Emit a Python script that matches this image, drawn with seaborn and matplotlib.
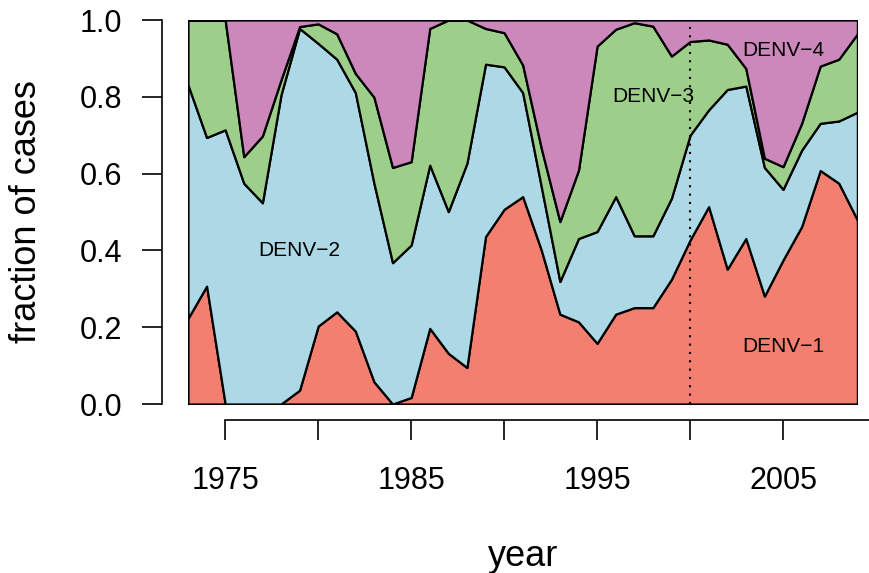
"""
Stacked fraction of dengue cases by serotype per year
"""
import numpy as np
import pandas as pd
import seaborn as sns
import matplotlib.pyplot as plt

YEARS = list(range(1973, 2010))
DENV1 = [.223, .307, 0, 0, 0, 0, .036, .203, .240, .190, .058, 0, .017,
         .197, .132, .095, .436, .507, .540, .401, .234, .214, .158, .234,
         .251, .251, .325, .427, .514, .351, .431, .281, .375, .462, .608,
         .575, .479]
DENV2 = [.608, .387, .714, .575, .524, .805, .942, .736, .658, .621, .517,
         .368, .397, .425, .369, .532, .449, .371, .271, .165, .085, .217,
         .291, .306, .187, .187, .211, .273, .252, .468, .397, .335, .184,
         .199, .123, .162, .281]
DENV3 = [.169, .306, .286, .069, .174, .039, .005, .051, .066, .050, .224,
         .248, .217, .356, .499, .373, .093, .089, .072, .100, .156, .178,
         .483, .436, .555, .546, .370, .244, .182, .118, .046, .024, .059,
         .070, .149, .161, .204]
DENV4 = [0, 0, 0, .356, .302, .156, .017, .010, .036, .139, .201, .384, .369,
         .022, 0, 0, .022, .033, .117, .334, .525, .391, .068, .024, .007,
         .016, .094, .056, .052, .063, .126, .360, .382, .269, .120, .102,
         .036]
SEROTYPES = ['DENV\u22121', 'DENV\u22122', 'DENV\u22123', 'DENV\u22124']
COLORS = ['#F27F70', '#ADD8E6', '#9DCF8A', '#CC88BB']
LABEL_POS = [(2005, 0.15), (1979, 0.40), (1998, 0.80), (2005, 0.92)]
VLINE_YEAR = 2000

sns.set_style("white")
plt.rcParams['font.family'] = ['Liberation Sans', 'DejaVu Sans']
for key in ['text.color', 'axes.labelcolor', 'xtick.color', 'ytick.color']:
    plt.rcParams[key] = 'black'

cases = pd.DataFrame({'year': YEARS, SEROTYPES[0]: DENV1, SEROTYPES[1]: DENV2,
                      SEROTYPES[2]: DENV3, SEROTYPES[3]: DENV4})
stacked = cases[SEROTYPES].cumsum(axis=1)
stacked[SEROTYPES[-1]] = 1.0

fig = plt.figure(figsize=(8.7, 5.73), dpi=100)
ax = fig.add_axes([188 / 870, 1 - 404 / 573, 669.4 / 870, 384 / 573])

lower = np.zeros(len(YEARS))
for name, color in zip(SEROTYPES, COLORS):
    upper = stacked[name].values
    ax.fill_between(cases['year'], lower, upper, facecolor=color,
                    edgecolor='black', linewidth=1.6, zorder=2)
    lower = upper

ax.axvline(VLINE_YEAR, color='black', linestyle=(0, (1, 3)), linewidth=1.5,
           zorder=3)

for name, (x, y) in zip(SEROTYPES, LABEL_POS):
    ax.text(x, y, name, fontsize=15, ha='center', va='center', zorder=4)

ax.set_xlim(1973, 2009)
ax.set_ylim(0, 1)

for side in ['top', 'right']:
    ax.spines[side].set_visible(False)
ax.spines['left'].set_position(('outward', 18.7))
ax.spines['bottom'].set_position(('outward', 11.5))
ax.spines['left'].set_bounds(0, 1)
ax.spines['bottom'].set_bounds(1975, 2010)
for side in ['left', 'bottom']:
    ax.spines[side].set_linewidth(1.2)
    ax.spines[side].set_color('black')

ax.set_xticks([1975, 1985, 1995, 2005])
ax.set_xticks([1980, 1990, 2000], minor=True)
ax.set_yticks([0, 0.2, 0.4, 0.6, 0.8, 1.0])
ax.set_yticklabels(['0.0', '0.2', '0.4', '0.6', '0.8', '1.0'])
ax.tick_params(axis='both', which='both', length=14.4, width=1.2,
               color='black', direction='out', labelsize=22)
ax.tick_params(axis='y', pad=14)
ax.tick_params(axis='x', which='major', pad=19)
ax.tick_params(left=True, bottom=True)
ax.tick_params(axis='x', which='minor', bottom=True)

ax.set_xlabel('year', fontsize=26, va='center')
ax.set_ylabel('fraction of cases', fontsize=26, va='center')
ax.xaxis.set_label_coords(0.5, -0.398)
ax.yaxis.set_label_coords(-0.242, 0.5)

fig.savefig('out.png', dpi=100)
